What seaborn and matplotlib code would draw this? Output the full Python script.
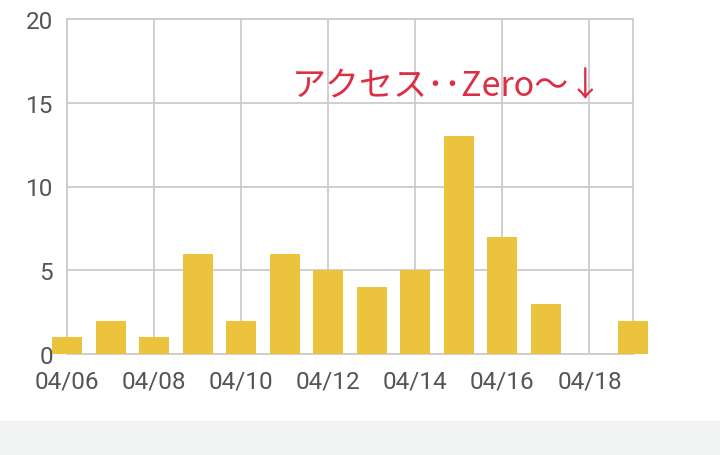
import pandas as pd
import seaborn as sns
import matplotlib.pyplot as plt
from matplotlib.patches import Rectangle

dates = ["04/06", "04/07", "04/08", "04/09", "04/10", "04/11", "04/12",
         "04/13", "04/14", "04/15", "04/16", "04/17", "04/18", "04/19"]
access = [1, 2, 1, 6, 2, 6, 5, 4, 5, 13, 7, 3, 0, 2]
y_ticks = [0, 5, 10, 15, 20]
note = "アクセス･･Zero～↓"

df = pd.DataFrame({"date": dates, "access": access})

sns.set_style("white")
plt.rcParams["font.family"] = ["Roboto", "DejaVu Sans"]

fig = plt.figure(figsize=(7.2, 4.56), dpi=100)
# light strip at the bottom of the page
fig.patches.append(Rectangle((0, 0), 1, 34 / 456, transform=fig.transFigure,
                             color="#f2f5f4", zorder=0))
ax = fig.add_axes([67 / 720, 1 - 355 / 456, 566 / 720, 335 / 456])

sns.barplot(data=df, x="date", y="access", order=dates, color="#ebc33d",
            saturation=1, width=0.69, linewidth=0, ax=ax, zorder=3)
for bar in ax.patches:
    bar.set_clip_on(False)

ax.set_xlim(0, len(dates) - 1)
ax.set_ylim(0, 20)
ax.set_yticks(y_ticks)
ax.set_xticks(range(0, len(dates), 2))
ax.set_xticklabels(dates[::2])
ax.set_xlabel("")
ax.set_ylabel("")

ax.set_axisbelow(True)
ax.grid(True, color="#cccccc", linewidth=1.3)
for s in ax.spines.values():
    s.set_color("#cccccc")
    s.set_linewidth(1.3)
ax.tick_params(axis="both", length=0, labelsize=17.5, colors="#555555")
ax.tick_params(axis="x", pad=11)
ax.tick_params(axis="y", pad=10)

ax.text(5.17, 16.05, note, color="#dc2f46", fontsize=24.5, ha="left", va="center",
        family=["Noto Sans CJK JP", "DejaVu Sans"])

fig.savefig("out.png", dpi=100)
